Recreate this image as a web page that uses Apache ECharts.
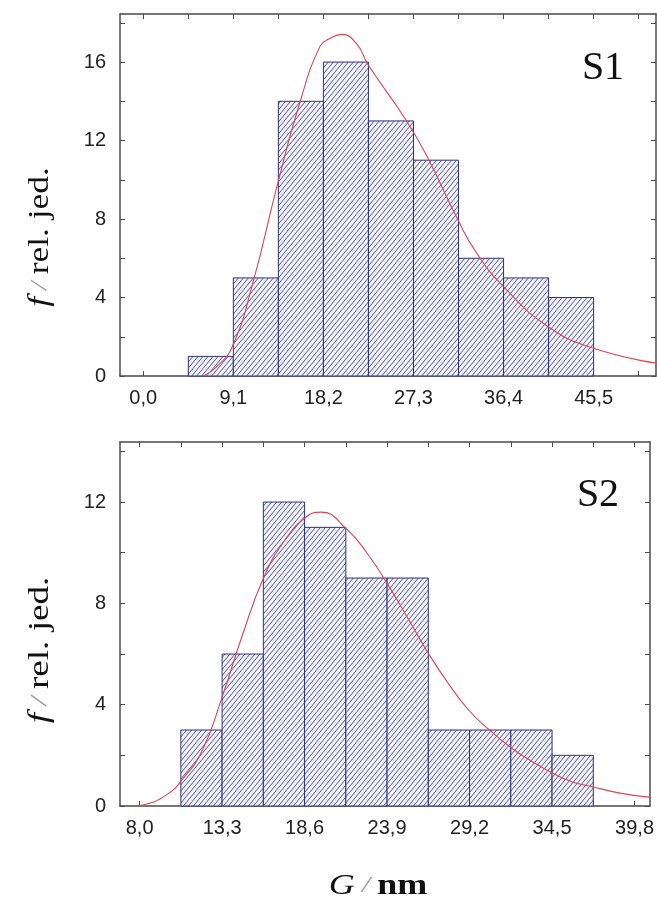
<!DOCTYPE html>
<html>
<head>
<meta charset="utf-8">
<script src="https://cdn.jsdelivr.net/npm/echarts@6/dist/echarts.min.js"></script>
<style>
html,body{margin:0;padding:0;background:#fff;}
#chart{width:657px;height:901px;}
</style>
</head>
<body>
<div id="chart"></div>
<script>
// ---- Data (S1) ----
var s1BinEdges = [4.55, 9.1, 13.65, 18.2, 22.75, 27.3, 31.85, 36.4, 40.95, 45.5];
var s1Counts = [1, 5, 14, 16, 13, 11, 6, 5, 4];
var s1CurveX = [6.06, 7.4, 9.0, 11.1, 13.5, 15.8, 17.85, 18.85, 20.07, 21.6, 22.67, 26.6, 28.66, 31.8, 33.7, 36.4, 40.95, 45.5, 51.9];
var s1CurveY = [0, 0.47, 1.5, 4.8, 9.65, 13.9, 16.8, 17.2, 17.41, 16.9, 15.9, 13.0, 11.2, 7.95, 6.25, 4.55, 2.5, 1.41, 0.65];
var s1XLabels = [0, 9.1, 18.2, 27.3, 36.4, 45.5];
var s1XTicks = [0, 4.55, 9.1, 13.65, 18.2, 22.75, 27.3, 31.85, 36.4, 40.95, 45.5, 50.05];
var s1YLabels = [0, 4, 8, 12, 16];
var s1YTicks = [0, 2, 4, 6, 8, 10, 12, 14, 16, 18];

// ---- Data (S2) ----
var s2BinEdges = [10.65, 13.3, 15.95, 18.6, 21.25, 23.9, 26.55, 29.2, 31.85, 34.5, 37.15];
var s2Counts = [3, 6, 12, 11, 9, 9, 3, 3, 3, 2];
var s2CurveX = [7.6, 8.2, 9.7, 10.72, 12.03, 13.3, 14.57, 15.99, 17.33, 18.7, 19.65, 21.27, 22.64, 23.91, 25.18, 26.56, 27.83, 29.14, 30.48, 31.91, 33.23, 34.5, 35.77, 37.08, 38.95, 40.85];
var s2CurveY = [0, 0.04, 0.43, 1.03, 2.2, 4.3, 6.68, 9.04, 10.49, 11.41, 11.6, 10.95, 9.96, 8.78, 7.47, 6.02, 4.84, 3.79, 3.0, 2.28, 1.75, 1.31, 0.96, 0.76, 0.5, 0.34];
var s2XLabels = [8.0, 13.3, 18.6, 23.9, 29.2, 34.5, 39.8];
var s2XTicks = [8.0, 10.65, 13.3, 15.95, 18.6, 21.25, 23.9, 26.55, 29.2, 31.85, 34.5, 37.15, 39.8];
var s2YLabels = [0, 4, 8, 12];
var s2YTicks = [0, 2, 4, 6, 8, 10, 12, 14];

// ---- hatch pattern ----
function makeHatch() {
  var w = 5, h = 6;
  var c = document.createElement('canvas');
  c.width = w; c.height = h;
  var ctx = c.getContext('2d');
  ctx.fillStyle = '#f1f1f8';
  ctx.fillRect(0, 0, w, h);
  ctx.strokeStyle = '#555a96';
  ctx.lineWidth = 1;
  for (var k = -1; k <= 1; k++) {
    ctx.beginPath();
    ctx.moveTo(k * w - w, 2 * h);
    ctx.lineTo(k * w + 2 * w, -h);
    ctx.stroke();
  }
  return c;
}
var hatch = { image: makeHatch(), repeat: 'repeat' };

function binsData(edges, counts) {
  var out = [];
  for (var i = 0; i < counts.length; i++) out.push([edges[i], edges[i + 1], counts[i]]);
  return out;
}
function zip(xs, ys) {
  var out = [];
  for (var i = 0; i < xs.length; i++) out.push([xs[i], ys[i]]);
  return out;
}
function renderBin(params, api) {
  var p0 = api.coord([api.value(0), api.value(2)]);
  var p1 = api.coord([api.value(1), 0]);
  return {
    type: 'rect',
    shape: { x: p0[0], y: p0[1], width: p1[0] - p0[0], height: p1[1] - p0[1] },
    style: { fill: hatch, stroke: '#2e3180', lineWidth: 1 }
  };
}
var fmtX = function (v) { return v.toFixed(1).replace('.', ','); };
var axisCol = '#4a4a4a';
var labelStyle = { color: '#222', fontSize: 20, fontFamily: 'Liberation Sans, Arial, sans-serif' };

function xAxes(gridIndex, min, max, labels, ticks) {
  return [
    { type: 'value', gridIndex: gridIndex, position: 'bottom', min: min, max: max,
      axisLine: { show: true, onZero: false, lineStyle: { color: axisCol, width: 1.5 } },
      axisTick: { show: true, inside: true, length: 5, customValues: ticks, lineStyle: { color: axisCol } },
      axisLabel: Object.assign({ customValues: labels, formatter: fmtX, margin: 12 }, labelStyle),
      splitLine: { show: false } },
    { type: 'value', gridIndex: gridIndex, position: 'top', min: min, max: max,
      axisLine: { show: true, onZero: false, lineStyle: { color: axisCol, width: 1.5 } },
      axisTick: { show: true, inside: true, length: 5, customValues: ticks, lineStyle: { color: axisCol } },
      axisLabel: { show: false },
      splitLine: { show: false } }
  ];
}
function yAxes(gridIndex, max, labels, ticks) {
  return [
    { type: 'value', gridIndex: gridIndex, position: 'left', min: 0, max: max,
      axisLine: { show: true, onZero: false, lineStyle: { color: axisCol, width: 1.5 } },
      axisTick: { show: true, inside: true, length: 5, customValues: ticks, lineStyle: { color: axisCol } },
      axisLabel: Object.assign({ customValues: labels, margin: 14 }, labelStyle),
      splitLine: { show: false } },
    { type: 'value', gridIndex: gridIndex, position: 'right', min: 0, max: max,
      axisLine: { show: true, onZero: false, lineStyle: { color: axisCol, width: 1.5 } },
      axisTick: { show: true, inside: true, length: 5, customValues: ticks, lineStyle: { color: axisCol } },
      axisLabel: { show: false },
      splitLine: { show: false } }
  ];
}

var serif = 'Liberation Serif, Times New Roman, serif';
var yTitleRich = {
  i: { fontFamily: serif, fontStyle: 'italic', fontSize: 29, fill: '#111' },
  s: { fontFamily: serif, fontStyle: 'italic', fontSize: 24, fill: '#999' },
  n: { fontFamily: serif, fontSize: 29, fill: '#111' }
};

var chart = echarts.init(document.getElementById('chart'), null, { renderer: 'canvas' });
chart.setOption({
  animation: false,
  backgroundColor: '#ffffff',
  grid: [
    { left: 120, top: 14, width: 536, height: 362 },
    { left: 120, top: 442, width: 536, height: 364 }
  ],
  xAxis: xAxes(0, -2.35, 51.8, s1XLabels, s1XTicks).concat(xAxes(1, 6.74, 40.79, s2XLabels, s2XTicks)),
  yAxis: yAxes(0, 18.45, s1YLabels, s1YTicks).concat(yAxes(1, 14.37, s2YLabels, s2YTicks)),
  series: [
    { type: 'custom', xAxisIndex: 0, yAxisIndex: 0, renderItem: renderBin,
      encode: { x: [0, 1], y: 2 }, data: binsData(s1BinEdges, s1Counts), z: 2 },
    { type: 'line', xAxisIndex: 0, yAxisIndex: 0, data: zip(s1CurveX, s1CurveY),
      showSymbol: false, smooth: 0.5,
      lineStyle: { color: '#dd4455', width: 1.1 }, z: 3 },
    { type: 'custom', xAxisIndex: 2, yAxisIndex: 2, renderItem: renderBin,
      encode: { x: [0, 1], y: 2 }, data: binsData(s2BinEdges, s2Counts), z: 2 },
    { type: 'line', xAxisIndex: 2, yAxisIndex: 2, data: zip(s2CurveX, s2CurveY),
      showSymbol: false, smooth: 0.5,
      lineStyle: { color: '#dd4455', width: 1.1 }, z: 3 }
  ],
  graphic: [
    { type: 'text', x: 603, y: 68, style: { text: 'S1', fontFamily: serif, fontSize: 40, fill: '#111', align: 'center', verticalAlign: 'middle' } },
    { type: 'text', x: 598, y: 495, style: { text: 'S2', fontFamily: serif, fontSize: 40, fill: '#111', align: 'center', verticalAlign: 'middle' } },
    { type: 'text', x: 40, y: 237, rotation: Math.PI / 2, scaleX: 1.22, style: { text: '{i|f}{s| / }{n|rel. jed.}', rich: yTitleRich, align: 'center', verticalAlign: 'middle' } },
    { type: 'text', x: 40, y: 650, rotation: Math.PI / 2, scaleX: 1.28, style: { text: '{i|f}{s| / }{n|rel. jed.}', rich: yTitleRich, align: 'center', verticalAlign: 'middle' } },
    { type: 'text', x: 378, y: 886, scaleX: 1.2, style: {
        text: '{i|G}{s| / }{b|nm}', align: 'center', verticalAlign: 'middle',
        rich: {
          i: { fontFamily: serif, fontStyle: 'italic', fontSize: 30, fill: '#111' },
          s: { fontFamily: serif, fontStyle: 'italic', fontSize: 24, fill: '#999' },
          b: { fontFamily: serif, fontWeight: 'bold', fontSize: 30, fill: '#111' }
        } } }
  ]
});
</script>
</body>
</html>
